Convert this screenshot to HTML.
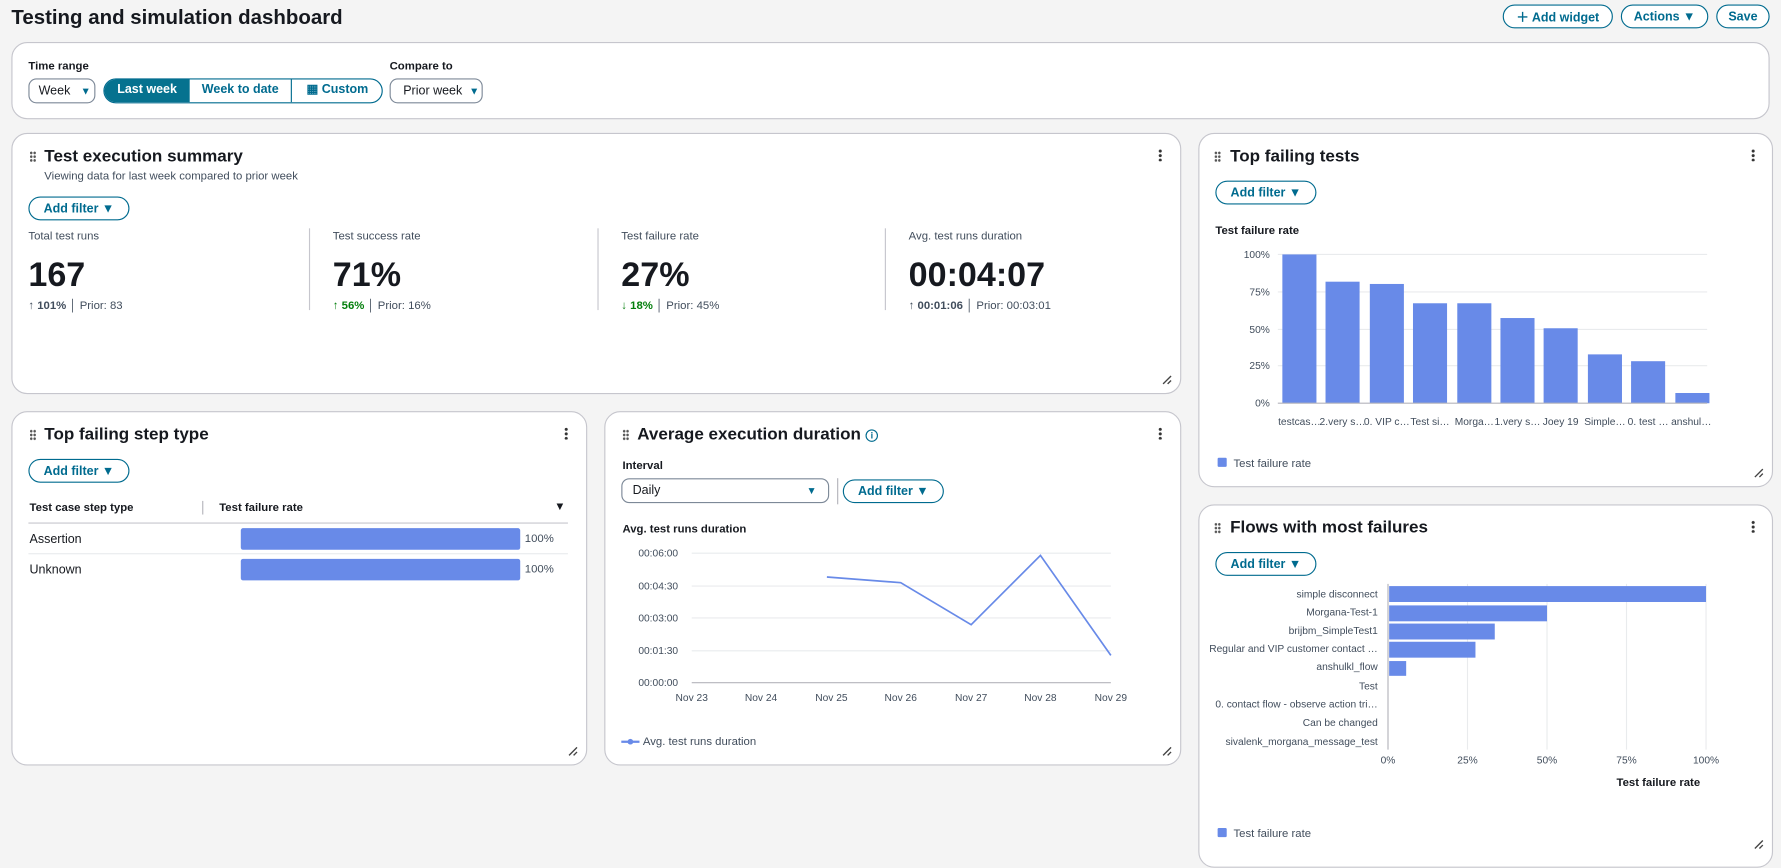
<!DOCTYPE html>
<html><head><meta charset="utf-8"><style>
*{box-sizing:border-box;margin:0;padding:0}
html,body{width:1781px;height:850px;overflow:hidden;background:#f4f4f4}
#w{position:absolute;left:0;top:0;width:1568px;height:748px;transform:scale(1.13584);transform-origin:0 0;font-family:"Liberation Sans",sans-serif;color:#16191f;font-size:11px}
.a{position:absolute;white-space:nowrap}
.card{position:absolute;background:#fff;border:1px solid #c6c6cd;border-radius:14px}
.btn{position:absolute;border:1.5px solid #006b8f;border-radius:16px;color:#006b8f;font-weight:bold;font-size:11px;text-align:center;background:#fff;white-space:nowrap;display:flex;align-items:center;justify-content:center}
.h{font-weight:bold;font-size:15px}
.grip{position:absolute;width:6px;height:10px;background:radial-gradient(circle,#555 1px,transparent 1.3px) 0 0/3px 3.3px}
.dots{position:absolute;width:3px;height:11px;background:radial-gradient(circle,#333 1.2px,transparent 1.5px) 0 0/3px 4px}
.rs{position:absolute;width:9px;height:9px}
.sel{position:absolute;border:1px solid #7d8998;border-radius:7px;background:#fff;font-size:11px;white-space:nowrap}
.lab{font-weight:bold;font-size:10px}
.big{font-weight:bold;font-size:30px}
.sub{font-size:10px;color:#414d5c}
</style></head><body><div id="w">
<div class="a" style="left:10px;top:5px;font-size:18px;font-weight:bold">Testing and simulation dashboard</div>
<div class="btn" style="left:1323px;top:4px;width:97px;height:21px">＋ Add widget</div>
<div class="btn" style="left:1427px;top:4px;width:77px;height:21px">Actions ▼</div>
<div class="btn" style="left:1511px;top:4px;width:47px;height:21px">Save</div>

<div class="card" style="left:10px;top:37px;width:1548px;height:68px"></div>
<div class="a lab" style="left:25px;top:53px">Time range</div>
<div class="sel" style="left:25px;top:69px;width:59px;height:22px;line-height:20px;padding-left:8px">Week <span style="color:#006b8f;margin-left:6px;font-size:9px">▼</span></div>
<div class="a" style="left:91px;top:69px;width:246px;height:22px;border:1.5px solid #006b8f;border-radius:12px;overflow:hidden;font-weight:bold;color:#006b8f;line-height:19px">
<div class="a" style="left:0;top:0;width:75px;height:20px;background:#06728f;color:#fff;text-align:center">Last week</div>
<div class="a" style="left:75px;top:0;width:90px;height:20px;text-align:center;border-right:1px solid #006b8f">Week to date</div>
<div class="a" style="left:165px;top:0;width:80px;height:20px;text-align:center">▦ Custom</div></div>
<div class="a lab" style="left:343px;top:53px">Compare to</div>
<div class="sel" style="left:343px;top:69px;width:82px;height:22px;line-height:20px;padding-left:11px">Prior week <span style="color:#006b8f;margin-left:3px;font-size:9px">▼</span></div>

<!-- summary -->
<div class="card" style="left:10px;top:117px;width:1030px;height:230px"></div>
<div class="grip" style="left:26px;top:133px"></div>
<div class="a h" style="left:39px;top:129px">Test execution summary</div>
<div class="a sub" style="left:39px;top:150px">Viewing data for last week compared to prior week</div>
<div class="dots" style="left:1020px;top:131px"></div>
<div class="btn" style="left:25px;top:173px;width:89px;height:21px">Add filter ▼</div>
<div class="a" style="left:272px;top:201px;width:1px;height:72px;background:#c6c6cd"></div>
<div class="a" style="left:526px;top:201px;width:1px;height:72px;background:#c6c6cd"></div>
<div class="a" style="left:779px;top:201px;width:1px;height:72px;background:#c6c6cd"></div>
<div class="a sub" style="left:25px;top:203px">Total test runs</div>
<div class="a big" style="left:25px;top:226px">167</div>
<div class="a sub" style="left:25px;top:264px">↑ <b>101%</b> │ Prior: 83</div>
<div class="a sub" style="left:293px;top:203px">Test success rate</div>
<div class="a big" style="left:293px;top:226px">71%</div>
<div class="a sub" style="left:293px;top:264px"><b style="color:#037f0c">↑ 56%</b> │ Prior: 16%</div>
<div class="a sub" style="left:547px;top:203px">Test failure rate</div>
<div class="a big" style="left:547px;top:226px">27%</div>
<div class="a sub" style="left:547px;top:264px"><b style="color:#037f0c">↓ 18%</b> │ Prior: 45%</div>
<div class="a sub" style="left:800px;top:203px">Avg. test runs duration</div>
<div class="a big" style="left:800px;top:226px">00:04:07</div>
<div class="a sub" style="left:800px;top:264px">↑ <b>00:01:06</b> │ Prior: 00:03:01</div>
<svg class="rs" style="left:1023px;top:330px" viewBox="0 0 9 9"><path d="M1 8L8 1M5 8L8 5" stroke="#444" stroke-width="1.2"/></svg>

<!-- top failing tests -->
<div class="card" style="left:1055px;top:117px;width:506px;height:312px"></div>
<div class="grip" style="left:1069px;top:133px"></div>
<div class="a h" style="left:1083px;top:129px">Top failing tests</div>
<div class="dots" style="left:1542px;top:131px"></div>
<div class="btn" style="left:1070px;top:159px;width:89px;height:21px">Add filter ▼</div>
<div class="a lab" style="left:1070px;top:198px">Test failure rate</div>
<svg class="a" style="left:1055px;top:210px" width="506" height="210" font-family="Liberation Sans" font-size="9" fill="#414d5c">
<g stroke="#e9ebed"><line x1="70" x2="448" y1="14" y2="14"/><line x1="70" x2="448" y1="47" y2="47"/><line x1="70" x2="448" y1="80" y2="80"/><line x1="70" x2="448" y1="112" y2="112"/></g>
<g text-anchor="end"><text x="63" y="17">100%</text><text x="63" y="50">75%</text><text x="63" y="83">50%</text><text x="63" y="115">25%</text><text x="63" y="148">0%</text></g>
<g fill="#688ae8">
<rect x="74" y="14" width="30" height="131"/><rect x="112" y="38" width="30" height="107"/><rect x="151" y="40" width="30" height="105"/><rect x="189" y="57" width="30" height="88"/><rect x="228" y="57" width="30" height="88"/><rect x="266" y="70" width="30" height="75"/><rect x="304" y="79" width="30" height="66"/><rect x="343" y="102" width="30" height="43"/><rect x="381" y="108" width="30" height="37"/><rect x="420" y="136" width="30" height="9"/></g>
<line x1="70" x2="448" y1="145" y2="145" stroke="#b4b4bb"/>
<g text-anchor="middle"><text x="89" y="164">testcas…</text><text x="127" y="164">2.very s…</text><text x="166" y="164">0. VIP c…</text><text x="204" y="164">Test si…</text><text x="243" y="164">Morga…</text><text x="281" y="164">1.very s…</text><text x="319" y="164">Joey 19</text><text x="358" y="164">Simple…</text><text x="396" y="164">0. test …</text><text x="434" y="164">anshul…</text></g>
<rect x="17" y="193" width="8" height="8" rx="1" fill="#688ae8"/><text x="31" y="201" font-size="10">Test failure rate</text>
</svg>
<svg class="rs" style="left:1544px;top:412px" viewBox="0 0 9 9"><path d="M1 8L8 1M5 8L8 5" stroke="#444" stroke-width="1.2"/></svg>

<!-- step type -->
<div class="card" style="left:10px;top:362px;width:507px;height:312px"></div>
<div class="grip" style="left:26px;top:378px"></div>
<div class="a h" style="left:39px;top:374px">Top failing step type</div>
<div class="dots" style="left:497px;top:376px"></div>
<div class="btn" style="left:25px;top:404px;width:89px;height:21px">Add filter ▼</div>
<div class="a lab" style="left:26px;top:442px">Test case step type</div>
<div class="a" style="left:178px;top:441px;width:1px;height:12px;background:#b4b4bb"></div>
<div class="a lab" style="left:193px;top:442px">Test failure rate</div>
<div class="a" style="left:488px;top:441px;font-size:10px">▼</div>
<div class="a" style="left:25px;top:460px;width:475px;height:1px;background:#c6c6cd"></div>
<div class="a" style="left:26px;top:469px">Assertion</div>
<div class="a" style="left:212px;top:465px;width:246px;height:19px;background:#688ae8;border-radius:2px"></div>
<div class="a sub" style="left:462px;top:469px">100%</div>
<div class="a" style="left:25px;top:487px;width:475px;height:1px;background:#e9ebed"></div>
<div class="a" style="left:26px;top:496px">Unknown</div>
<div class="a" style="left:212px;top:492px;width:246px;height:19px;background:#688ae8;border-radius:2px"></div>
<div class="a sub" style="left:462px;top:496px">100%</div>
<svg class="rs" style="left:500px;top:657px" viewBox="0 0 9 9"><path d="M1 8L8 1M5 8L8 5" stroke="#444" stroke-width="1.2"/></svg>

<!-- avg duration -->
<div class="card" style="left:532px;top:362px;width:508px;height:312px"></div>
<div class="grip" style="left:548px;top:378px"></div>
<div class="a h" style="left:561px;top:374px">Average execution duration <span style="display:inline-block;width:11px;height:11px;border:1.3px solid #006b8f;border-radius:50%;font-size:8px;line-height:9px;text-align:center;color:#006b8f;vertical-align:1px">i</span></div>
<div class="dots" style="left:1020px;top:376px"></div>
<div class="a lab" style="left:548px;top:405px">Interval</div>
<div class="sel" style="left:547px;top:421px;width:183px;height:22px;line-height:20px;padding-left:9px">Daily<span style="position:absolute;right:10px;color:#006b8f;font-size:9px">▼</span></div>
<div class="a" style="left:737px;top:421px;width:1px;height:23px;background:#b4b4bb"></div>
<div class="btn" style="left:742px;top:422px;width:89px;height:21px">Add filter ▼</div>
<div class="a lab" style="left:548px;top:461px">Avg. test runs duration</div>
<svg class="a" style="left:532px;top:475px" width="508" height="190" font-family="Liberation Sans" font-size="9" fill="#414d5c">
<g stroke="#e9ebed"><line x1="77" x2="446" y1="12" y2="12"/><line x1="77" x2="446" y1="41" y2="41"/><line x1="77" x2="446" y1="69" y2="69"/><line x1="77" x2="446" y1="98" y2="98"/></g>
<line x1="77" x2="446" y1="126" y2="126" stroke="#b4b4bb"/>
<g text-anchor="end"><text x="65" y="15">00:06:00</text><text x="65" y="44">00:04:30</text><text x="65" y="72">00:03:00</text><text x="65" y="101">00:01:30</text><text x="65" y="129">00:00:00</text></g>
<g text-anchor="middle"><text x="77" y="142">Nov 23</text><text x="138" y="142">Nov 24</text><text x="200" y="142">Nov 25</text><text x="261" y="142">Nov 26</text><text x="323" y="142">Nov 27</text><text x="384" y="142">Nov 28</text><text x="446" y="142">Nov 29</text></g>
<polyline points="196,33 261,38 323,75 384,14 446,102" fill="none" stroke="#688ae8" stroke-width="1.5"/>
<line x1="15" x2="31" y1="178" y2="178" stroke="#688ae8" stroke-width="2"/><circle cx="23" cy="178" r="2.5" fill="#688ae8"/>
<text x="34" y="181" font-size="10">Avg. test runs duration</text>
</svg>
<svg class="rs" style="left:1023px;top:657px" viewBox="0 0 9 9"><path d="M1 8L8 1M5 8L8 5" stroke="#444" stroke-width="1.2"/></svg>

<!-- flows -->
<div class="card" style="left:1055px;top:444px;width:506px;height:320px"></div>
<div class="grip" style="left:1069px;top:460px"></div>
<div class="a h" style="left:1083px;top:456px">Flows with most failures</div>
<div class="dots" style="left:1542px;top:458px"></div>
<div class="btn" style="left:1070px;top:486px;width:89px;height:21px">Add filter ▼</div>
<svg class="a" style="left:1055px;top:510px" width="506" height="238" font-family="Liberation Sans" font-size="9" fill="#414d5c">
<g stroke="#e9ebed"><line x1="237" x2="237" y1="4" y2="150"/><line x1="307" x2="307" y1="4" y2="150"/><line x1="377" x2="377" y1="4" y2="150"/><line x1="447" x2="447" y1="4" y2="150"/></g>
<line x1="167" x2="167" y1="4" y2="150" stroke="#b4b4bb"/>
<g fill="#688ae8"><rect x="168" y="6" width="279" height="14"/><rect x="168" y="23" width="139" height="14"/><rect x="168" y="39" width="93" height="14"/><rect x="168" y="55" width="76" height="14"/><rect x="168" y="72" width="15" height="13"/></g>
<g text-anchor="end"><text x="158" y="16">simple disconnect</text><text x="158" y="32">Morgana-Test-1</text><text x="158" y="48">brijbm_SimpleTest1</text><text x="158" y="64">Regular and VIP customer contact …</text><text x="158" y="80">anshulkl_flow</text><text x="158" y="97">Test</text><text x="158" y="113">0. contact flow - observe action tri…</text><text x="158" y="129">Can be changed</text><text x="158" y="146">sivalenk_morgana_message_test</text></g>
<g text-anchor="middle"><text x="167" y="162">0%</text><text x="237" y="162">25%</text><text x="307" y="162">50%</text><text x="377" y="162">75%</text><text x="447" y="162">100%</text></g>
<text x="405" y="182" text-anchor="middle" font-weight="bold" font-size="10" fill="#16191f">Test failure rate</text>
<rect x="17" y="219" width="8" height="8" rx="1" fill="#688ae8"/><text x="31" y="227" font-size="10">Test failure rate</text>
</svg>
<svg class="rs" style="left:1544px;top:739px" viewBox="0 0 9 9"><path d="M1 8L8 1M5 8L8 5" stroke="#444" stroke-width="1.2"/></svg>
</div></body></html>
